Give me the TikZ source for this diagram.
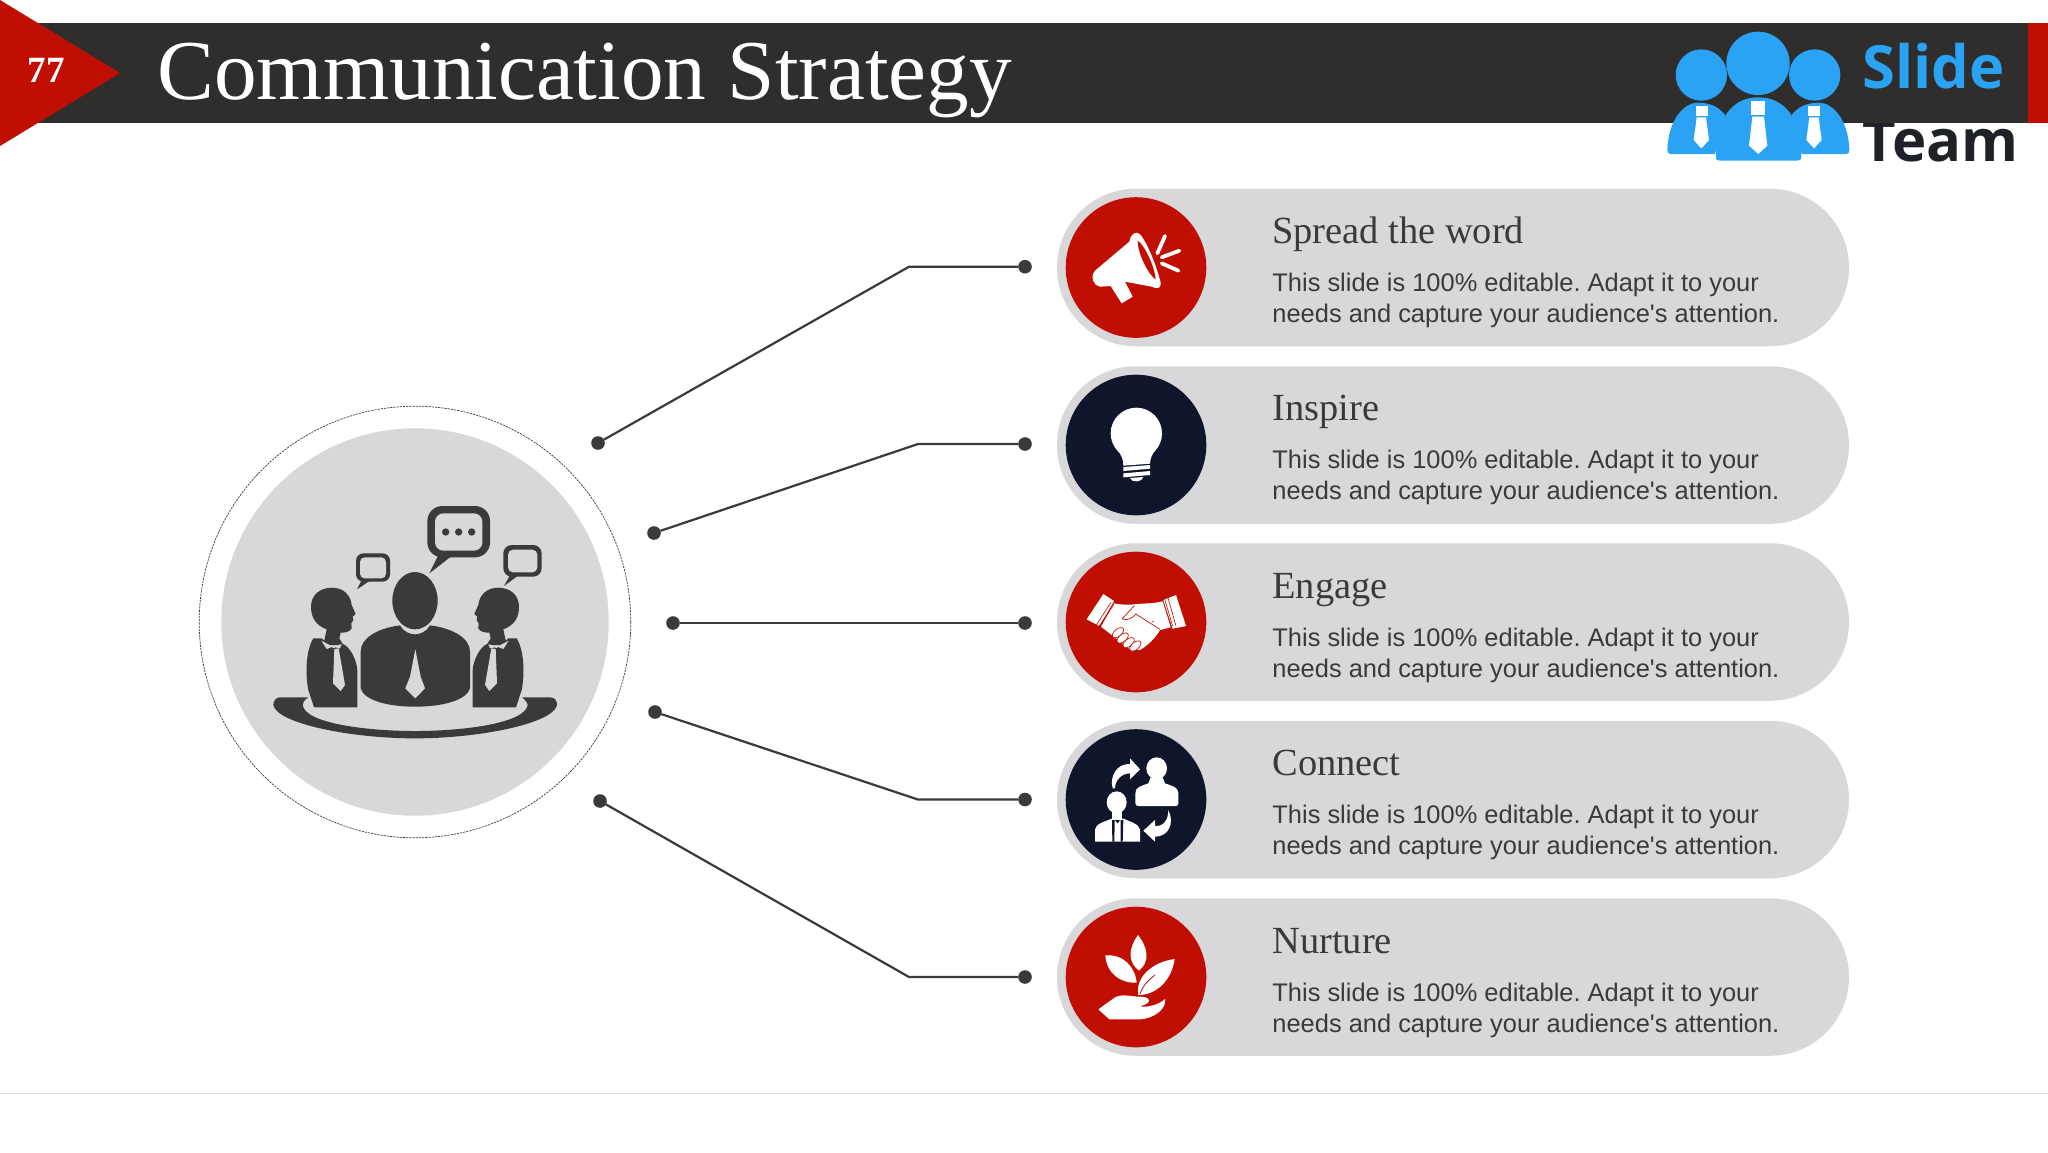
\documentclass[tikz,border=0pt]{standalone}
\usepackage{fontspec}
\setmainfont{Liberation Serif}
\newfontfamily\arialfont{Liberation Sans}
\newfontfamily\logofont{Open Sans}
\usetikzlibrary{shapes.misc}
\definecolor{band}{HTML}{2F2E2D}
\definecolor{redc}{HTML}{C10E02}
\definecolor{navy}{HTML}{0F162B}
\definecolor{pillgray}{HTML}{D8D7D9}
\definecolor{ink}{HTML}{3B393A}
\definecolor{logoblue}{HTML}{2AA3F5}
\definecolor{logoink}{HTML}{1E2228}
\tikzset{
  pill/.style={rounded rectangle,fill=pillgray,minimum width=396pt,minimum height=78.75pt,inner sep=0pt,outer sep=0pt},
  badge/.style={circle,fill=#1,minimum size=70.3pt,inner sep=0pt,outer sep=0pt},
  enddot/.style={circle,fill=ink,minimum size=6.8pt,inner sep=0pt,outer sep=0pt},
  link/.style={draw=ink,line width=1.1pt},
  headtext/.style={anchor=base west,inner sep=0pt,text=ink,font=\fontsize{19.2}{22}\selectfont},
  bodytext/.style={anchor=north west,inner sep=0pt,align=left,text=ink,font=\arialfont\frenchspacing\fontsize{12.72}{15.5}\selectfont},
  zoomat/.style 2 args={shift={(#1,#2)},x=0.166667pt,y=-0.166667pt},
}
\newcommand{\sidefigure}{%
  \fill[ink] (440,718) .. controls (405,705) and (393,680) .. (393,650) .. controls (393,615) and (420,593) .. (455,593) .. controls (490,593) and (512,615) .. (515,645) -- (527,672) -- (518,680) -- (520,690) -- (514,700) -- (515,715) .. controls (510,726) and (495,728) .. (482,728) -- (478,745) -- (490,765) -- (430,765) -- cycle;
  \fill[ink] (400,745) -- (425,745) -- (460,775) -- (485,760) .. controls (510,768) and (530,810) .. (532,840) -- (532,952) -- (402,952) -- (385,900) .. controls (375,850) and (378,780) .. (400,745) -- cycle;
  \fill[pillgray] (424,752) -- (458,770) -- (440,777) -- cycle;
  \fill[pillgray] (485,762) -- (460,771) -- (480,775) -- cycle;
  \fill[pillgray] (463,777) -- (476,775) -- (495,885) -- (482,903) -- (459,880) -- cycle;
}
\begin{document}
\begin{tikzpicture}[x=0.5pt,y=-0.5pt]
\useasboundingbox (0,0) rectangle (2048,1152);
\fill[white] (0,0) rectangle (2048,1152);
% logo word below band
\node[anchor=base west,inner sep=0pt,text=logoink,font=\logofont\bfseries\fontsize{29}{32}\selectfont] (team) at (1862,161) {Team};
% header band
\fill[band] (0,23) rectangle (2030,123);
\fill[redc] (2028,23) rectangle (2048,123);
\fill[redc] (0,0) -- (120,73) -- (0,146) -- cycle;
\node[anchor=base,inner sep=0pt,text=white,font=\bfseries\fontsize{18.5}{20}\selectfont] (num) at (46,82) {77};
\node[anchor=base west,inner sep=0pt,text=white,font=\fontsize{42.6}{46}\selectfont] (title) at (157,99) {Communication Strategy};
% logo
\begin{scope}[zoomat={1640}{0}]
  \fill[logoblue] (184,225) circle[radius=77] (354,190) circle[radius=95] (524,225) circle[radius=77];
  \fill[logoblue] (82,450) .. controls (85,360) and (130,308) .. (175,308) .. controls (215,308) and (240,325) .. (255,345) -- (225,462) -- (92,462) .. controls (85,462) and (82,458) .. (82,450) -- cycle;
  \fill[logoblue] (628,450) .. controls (625,360) and (580,308) .. (535,308) .. controls (495,308) and (470,325) .. (455,345) -- (485,462) -- (618,462) .. controls (625,462) and (628,458) .. (628,450) -- cycle;
  \fill[logoblue] (228,470) .. controls (228,350) and (280,292) .. (355,292) .. controls (430,292) and (484,350) .. (484,470) .. controls (484,480) and (478,482) .. (470,482) -- (240,482) .. controls (232,482) and (228,480) .. (228,470) -- cycle;
  \fill[white] (333,304) rectangle (375,345);
  \fill[white] (337,350) -- (372,350) -- (382,437) -- (355,462) -- (327,437) -- cycle;
  \fill[white] (167,318) rectangle (203,348);
  \fill[white] (170,352) -- (198,352) -- (207,420) -- (184,445) -- (161,420) -- cycle;
  \fill[white] (505,318) rectangle (541,348);
  \fill[white] (508,352) -- (536,352) -- (545,420) -- (522,445) -- (499,420) -- cycle;
\end{scope}
\node[anchor=base west,inner sep=0pt,text=logoblue,font=\logofont\bfseries\fontsize{29.8}{32}\selectfont] (slide) at (1862,88) {Slide};
% central emblem
\node[circle,draw=ink,dash pattern=on 1.1pt off 0.5pt,line width=0.35pt,minimum size=215.8pt,inner sep=0pt] (outer) at (415,622) {};
\node[circle,fill=pillgray,minimum size=193.7pt,inner sep=0pt] (hub) at (415,622) {};
\begin{scope}[zoomat={180}{390}]
  \fill[ink] (300,922) -- (385,922) .. controls (372,930) and (368,938) .. (368,945) .. controls (375,1000) and (560,1023) .. (705,1023) .. controls (850,1023) and (1035,1000) .. (1043,945) .. controls (1043,938) and (1035,930) .. (1027,922) -- (1110,922) .. controls (1125,922) and (1131,932) .. (1131,945) .. controls (1120,1000) and (900,1045) .. (705,1045) .. controls (510,1045) and (290,1000) .. (280,945) .. controls (280,932) and (288,922) .. (300,922) -- cycle;
  \fill[ink] (705,632) ellipse[x radius=68,y radius=86];
  \fill[ink] (660,706) .. controls (670,725) and (690,733) .. (705,733) .. controls (720,733) and (740,725) .. (750,706) .. controls (820,715) and (870,745) .. (870,785) -- (870,895) .. controls (860,930) and (790,950) .. (705,950) .. controls (620,950) and (552,930) .. (542,895) -- (542,785) .. controls (542,745) and (590,715) .. (660,706) -- cycle;
  \fill[pillgray] (706,778) -- (722,860) -- (735,895) -- (706,925) -- (676,895) -- (690,860) -- cycle;
  \sidefigure
  \begin{scope}[shift={(1410,0)},xscale=-1]
    \sidefigure
  \end{scope}
  \fill[ink] (775,495) -- (748,550) -- (815,498) -- cycle;
  \fill[ink,rounded corners=7.5pt] (742,348) rectangle (930,502);
  \fill[pillgray,rounded corners=4.2pt] (765,370) rectangle (907,482);
  \fill[ink] (797,426) circle[radius=11] (836,426) circle[radius=11] (875,426) circle[radius=11];
  \fill[ink] (545,570) -- (531,598) -- (570,572) -- cycle;
  \fill[ink,rounded corners=3.7pt] (528,490) rectangle (630,575);
  \fill[pillgray,rounded corners=2.3pt] (540,502) rectangle (618,565);
  \fill[ink] (990,555) -- (972,588) -- (1015,556) -- cycle;
  \fill[ink,rounded corners=4.2pt] (970,465) rectangle (1085,560);
  \fill[pillgray,rounded corners=2.5pt] (984,479) rectangle (1072,547);
\end{scope}
% pills, badges, texts
\node[pill] (p1) at (1453,267.5) {};
\node[pill] (p2) at (1453,445) {};
\node[pill] (p3) at (1453,622) {};
\node[pill] (p4) at (1453,799.5) {};
\node[pill] (p5) at (1453,977) {};
\node[badge=redc] (b1) at (1136,267.5) {};
\node[badge=navy] (b2) at (1136,445) {};
\node[badge=redc] (b3) at (1136,622) {};
\node[badge=navy] (b4) at (1136,799.5) {};
\node[badge=redc] (b5) at (1136,977) {};
\node[headtext] (h1) at (1272,243) {Spread the word};
\node[headtext] (h2) at (1272,420.5) {Inspire};
\node[headtext] (h3) at (1272,598) {Engage};
\node[headtext] (h4) at (1272,775) {Connect};
\node[headtext] (h5) at (1272,953) {Nurture};
\node[bodytext] (t1) at (1272,272.2) {This slide is 100\% editable. Adapt it to your\\needs and capture your audience's attention.};
\node[bodytext] (t2) at (1272,449.7) {This slide is 100\% editable. Adapt it to your\\needs and capture your audience's attention.};
\node[bodytext] (t3) at (1272,627.2) {This slide is 100\% editable. Adapt it to your\\needs and capture your audience's attention.};
\node[bodytext] (t4) at (1272,804.2) {This slide is 100\% editable. Adapt it to your\\needs and capture your audience's attention.};
\node[bodytext] (t5) at (1272,982.2) {This slide is 100\% editable. Adapt it to your\\needs and capture your audience's attention.};
% connectors
\node[enddot] (l1) at (598,443) {};
\node[enddot] (l2) at (654,533) {};
\node[enddot] (l3) at (673,623) {};
\node[enddot] (l4) at (655,712) {};
\node[enddot] (l5) at (600,801) {};
\node[enddot] (r1) at (1025,266.7) {};
\node[enddot] (r2) at (1025,444) {};
\node[enddot] (r3) at (1025,623) {};
\node[enddot] (r4) at (1025,799.5) {};
\node[enddot] (r5) at (1025,977) {};
\coordinate (k1) at (909,266.7);
\coordinate (k2) at (918,444);
\coordinate (k4) at (918,799.5);
\coordinate (k5) at (909,977);
\draw[link] (l1) -- (k1) -- (r1);
\draw[link] (l2) -- (k2) -- (r2);
\draw[link] (l3) -- (r3);
\draw[link] (l4) -- (k4) -- (r4);
\draw[link] (l5) -- (k5) -- (r5);
% megaphone
\begin{scope}[zoomat={1040}{180}]
  \fill[white] (165,272) -- (268,185) .. controls (272,160) and (290,150) .. (302,165) .. controls (325,195) and (350,260) .. (362,308) .. controls (365,325) and (350,328) .. (335,320) -- (255,305) -- (278,350) -- (245,370) -- (212,318) -- (180,320) .. controls (160,318) and (150,290) .. (165,272) -- cycle;
  \fill[redc] (293,182) .. controls (310,190) and (345,260) .. (347,298) .. controls (330,290) and (293,225) .. (293,182) -- cycle;
  \draw[white,line width=1.9pt,line cap=round] (352,220) -- (375,168) (365,232) -- (418,212) (365,250) -- (415,272);
  % bulb
  \fill[white] (289,760) circle[radius=77];
  \fill[white] (232,810) .. controls (245,825) and (250,840) .. (250,857) -- (330,851) .. controls (330,838) and (335,825) .. (346,810) -- cycle;
  \fill[white] (250,861) -- (330,855) -- (330,866) -- (250,873) -- cycle;
  \fill[white] (250,880) -- (330,873) -- (330,885) -- (250,892) -- cycle;
  \fill[white] (270,894) -- (310,891) .. controls (308,906) and (275,910) .. (270,894) -- cycle;
\end{scope}
% handshake
\begin{scope}[zoomat={1040}{540}]
  \fill[white] (190,162) -- (222,183) -- (178,258) -- (140,238) -- cycle;
  \fill[white] (408,165) -- (438,258) -- (398,266) -- (370,180) -- cycle;
  \fill[white] (222,190) .. controls (250,195) and (270,195) .. (290,192) .. controls (320,190) and (345,190) .. (368,184) -- (392,262) -- (360,270) .. controls (345,295) and (325,315) .. (300,330) -- (270,328) -- (215,285) -- (183,260) -- cycle;
  \draw[redc,line width=0.3pt] (213,187) -- (167,258) (222,193) -- (175,262) (374,178) -- (398,258) (384,174) -- (408,258);
  \draw[redc,line width=0.35pt] (246,237) -- (283,197) (246,237) .. controls (262,242) and (278,235) .. (287,222) -- (360,268) (335,245) -- (342,245);
  \foreach \fx/\fy in {234/278,248/294,266/308,286/318}
    \filldraw[fill=white,draw=redc,line width=0.35pt,rotate around={40:(\fx,\fy)}] (\fx,\fy) ellipse[x radius=20,y radius=11];
\end{scope}
% connect
\begin{scope}[zoomat={1080}{740}]
  \fill[white] (230,85) ellipse[x radius=31,y radius=33];
  \fill[white] (212,112) -- (248,112) -- (255,130) .. controls (275,138) and (295,140) .. (295,160) -- (295,190) .. controls (295,198) and (290,198) .. (285,198) -- (175,198) .. controls (168,198) and (166,195) .. (166,188) -- (166,160) .. controls (166,140) and (185,138) .. (205,130) -- cycle;
  \fill[white] (110,187) ellipse[x radius=30,y radius=33];
  \fill[white] (95,212) rectangle (125,240);
  \fill[white] (45,305) -- (45,268) .. controls (48,250) and (75,245) .. (95,236) -- (130,236) .. controls (150,245) and (175,250) .. (180,268) -- (180,305) -- cycle;
  \fill[navy] (96,240) -- (104,240) -- (103,305) -- (97,305) -- cycle;
  \fill[navy] (122,240) -- (130,240) -- (128,305) -- (122,305) -- cycle;
  \fill[navy] (104,240) -- (120,240) -- (113,250) -- cycle;
  \fill[white] (98,145) .. controls (88,110) and (110,70) .. (150,72) -- (150,55) -- (180,88) -- (150,118) -- (150,100) .. controls (125,100) and (105,120) .. (105,145) -- cycle;
  \fill[white] (265,210) .. controls (285,250) and (265,290) .. (225,290) -- (225,305) -- (190,272) -- (225,240) -- (225,258) .. controls (250,260) and (265,240) .. (265,210) -- cycle;
\end{scope}
% nurture
\begin{scope}[zoomat={1040}{880}]
  \fill[white] (294,165) .. controls (325,205) and (330,245) .. (297,272) .. controls (262,245) and (265,205) .. (294,165) -- cycle;
  \fill[white] (196,226) .. controls (250,222) and (285,260) .. (290,308) .. controls (240,310) and (200,280) .. (196,226) -- cycle;
  \fill[white] (404,237) .. controls (395,300) and (350,345) .. (295,345) .. controls (285,290) and (340,245) .. (404,237) -- cycle;
  \draw[redc,line width=0.4pt] (300,342) .. controls (310,315) and (325,300) .. (345,285);
  \fill[white] (175,388) -- (225,352) .. controls (250,340) and (270,350) .. (300,350) .. controls (335,350) and (335,370) .. (305,377) -- (300,380) .. controls (335,382) and (360,370) .. (375,357) .. controls (380,385) and (345,415) .. (300,418) -- (208,418) -- cycle;
\end{scope}
% footer rule
\draw[draw=black!14,line width=0.5pt] (0,1093) -- (2048,1093);
\end{tikzpicture}
\end{document}
